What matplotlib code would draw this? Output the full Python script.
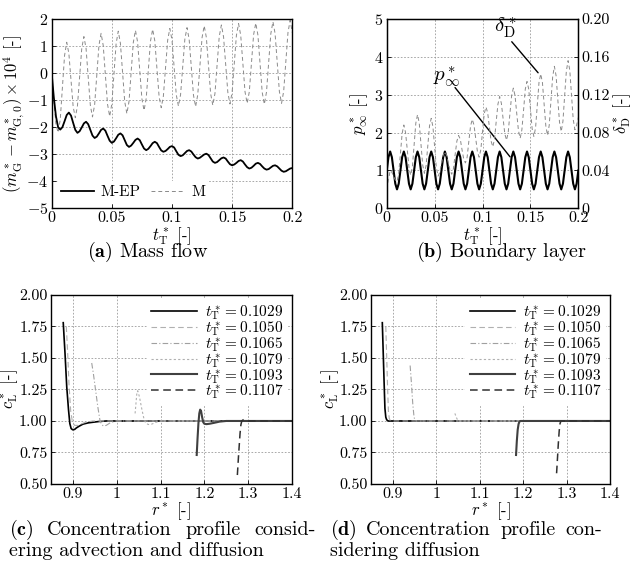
import numpy as np
import matplotlib
matplotlib.use("Agg")
import matplotlib.pyplot as plt

plt.rcParams["font.family"] = "serif"
plt.rcParams["font.serif"] = ["cmr10", "DejaVu Serif"]
plt.rcParams["mathtext.fontset"] = "cm"
plt.rcParams["axes.formatter.use_mathtext"] = True
plt.rcParams["axes.unicode_minus"] = True

# ---- (a) mass flow, sampled every 0.2/112 in t*_T
t_a = np.linspace(0.0, 0.2, 113)
m_ep = [0.0, -0.9, -1.6, -2.0, -2.09, -2.00, -1.78, -1.55, -1.46,
        -1.57, -1.84, -2.10, -2.21, -2.15, -2.01, -1.86, -1.80,
        -1.89, -2.10, -2.31, -2.40, -2.35, -2.23, -2.10, -2.05,
        -2.13, -2.32, -2.50, -2.58, -2.53, -2.41, -2.28, -2.23,
        -2.30, -2.48, -2.66, -2.73, -2.68, -2.58, -2.47, -2.42,
        -2.48, -2.64, -2.79, -2.85, -2.80, -2.70, -2.59, -2.54,
        -2.59, -2.73, -2.86, -2.91, -2.88, -2.81, -2.73, -2.70,
        -2.75, -2.89, -3.02, -3.07, -3.04, -2.96, -2.88, -2.85,
        -2.90, -3.01, -3.11, -3.16, -3.13, -3.07, -3.01, -2.98,
        -3.03, -3.15, -3.27, -3.32, -3.29, -3.22, -3.15, -3.12,
        -3.16, -3.27, -3.37, -3.41, -3.38, -3.32, -3.25, -3.22,
        -3.27, -3.38, -3.48, -3.53, -3.50, -3.43, -3.35, -3.32,
        -3.36, -3.45, -3.53, -3.57, -3.55, -3.49, -3.43, -3.41,
        -3.45, -3.53, -3.61, -3.65, -3.63, -3.58, -3.53, -3.51]
m_only = [0.0, -1.0, -1.9, -2.2, -1.71, -0.53, 0.65, 1.14, 0.73,
          -0.26, -1.24, -1.65, -1.21, -0.15, 0.91, 1.35, 0.92,
          -0.14, -1.19, -1.62, -1.17, -0.08, 1.02, 1.47, 1.02,
          -0.07, -1.15, -1.60, -1.14, -0.03, 1.09, 1.55, 1.10,
          0.03, -1.05, -1.50, -1.05, 0.04, 1.13, 1.58, 1.15,
          0.10, -0.95, -1.38, -0.94, 0.12, 1.18, 1.62, 1.20,
          0.17, -0.86, -1.28, -0.85, 0.19, 1.22, 1.65, 1.23,
          0.22, -0.80, -1.22, -0.80, 0.23, 1.26, 1.68, 1.25,
          0.22, -0.81, -1.24, -0.80, 0.26, 1.31, 1.75, 1.32,
          0.28, -0.76, -1.19, -0.76, 0.30, 1.35, 1.78, 1.35,
          0.32, -0.71, -1.14, -0.71, 0.35, 1.40, 1.83, 1.40,
          0.36, -0.69, -1.12, -0.69, 0.37, 1.42, 1.85, 1.41,
          0.35, -0.71, -1.15, -0.70, 0.38, 1.45, 1.90, 1.46,
          0.39, -0.68, -1.12, -0.67, 0.42, 1.50, 1.95, 1.50]

# ---- (b) boundary layer
t_b = np.linspace(0.0, 0.2, 113)
p_inf = [1.0, 1.35, 1.5, 1.35, 1.0, 0.65, 0.5, 0.65,
         1.0, 1.35, 1.5, 1.35, 1.0, 0.65, 0.5, 0.65,
         1.0, 1.35, 1.5, 1.35, 1.0, 0.65, 0.5, 0.65,
         1.0, 1.35, 1.5, 1.35, 1.0, 0.65, 0.5, 0.65,
         1.0, 1.35, 1.5, 1.35, 1.0, 0.65, 0.5, 0.65,
         1.0, 1.35, 1.5, 1.35, 1.0, 0.65, 0.5, 0.65,
         1.0, 1.35, 1.5, 1.35, 1.0, 0.65, 0.5, 0.65,
         1.0, 1.35, 1.5, 1.35, 1.0, 0.65, 0.5, 0.65,
         1.0, 1.35, 1.5, 1.35, 1.0, 0.65, 0.5, 0.65,
         1.0, 1.35, 1.5, 1.35, 1.0, 0.65, 0.5, 0.65,
         1.0, 1.35, 1.5, 1.35, 1.0, 0.65, 0.5, 0.65,
         1.0, 1.35, 1.5, 1.35, 1.0, 0.65, 0.5, 0.65,
         1.0, 1.35, 1.5, 1.35, 1.0, 0.65, 0.5, 0.65,
         1.0, 1.35, 1.5, 1.35, 1.0, 0.65, 0.5, 0.65,
         1.0]
delta_d = [0.020, 0.030, 0.040, 0.038, 0.034, 0.030, 0.028, 0.037, 0.058,
           0.079, 0.088, 0.080, 0.062, 0.043, 0.035, 0.044, 0.067,
           0.090, 0.099, 0.090, 0.068, 0.046, 0.037, 0.045, 0.066,
           0.087, 0.095, 0.086, 0.065, 0.043, 0.034, 0.038, 0.047,
           0.056, 0.060, 0.056, 0.048, 0.040, 0.036, 0.042, 0.057,
           0.071, 0.077, 0.073, 0.062, 0.052, 0.048, 0.054, 0.071,
           0.087, 0.094, 0.088, 0.074, 0.060, 0.054, 0.062, 0.081,
           0.100, 0.107, 0.101, 0.086, 0.071, 0.065, 0.073, 0.092,
           0.110, 0.118, 0.111, 0.095, 0.079, 0.072, 0.080, 0.100,
           0.119, 0.127, 0.119, 0.100, 0.082, 0.074, 0.083, 0.104,
           0.126, 0.134, 0.126, 0.105, 0.084, 0.076, 0.085, 0.109,
           0.133, 0.142, 0.133, 0.110, 0.087, 0.077, 0.088, 0.114,
           0.139, 0.150, 0.140, 0.115, 0.091, 0.081, 0.092, 0.119,
           0.145, 0.156, 0.146, 0.120, 0.094, 0.083, 0.088, 0.096]

# ---- (c) advection + diffusion profiles
times = ["0.1029", "0.1050", "0.1065", "0.1079", "0.1093", "0.1107"]
r_c = [
    [0.878, 0.880, 0.882, 0.886, 0.890, 0.893, 0.896, 0.8995, 0.904, 0.908,
     0.915, 0.923, 0.935, 0.946, 0.960, 0.976, 1.40],
    [0.885, 0.888, 0.891, 0.895, 0.899, 0.904, 0.912, 0.925, 0.945, 1.40],
    [0.943, 0.947, 0.952, 0.957, 0.962, 0.966, 0.970, 0.976, 0.985, 0.998, 1.40],
    [1.042, 1.046, 1.048, 1.052, 1.057, 1.062, 1.066, 1.072, 1.080, 1.090, 1.100, 1.40],
    [1.1826, 1.1845, 1.1865, 1.1885, 1.1905, 1.1925, 1.195, 1.1975, 1.200,
     1.205, 1.212, 1.222, 1.235, 1.250, 1.40],
    [1.2754, 1.278, 1.2815, 1.2835, 1.2855, 1.289, 1.293, 1.300, 1.40],
]
c_c = [
    [1.78, 1.66, 1.54, 1.27, 1.09, 0.98, 0.94, 0.93, 0.933, 0.945,
     0.96, 0.975, 0.985, 0.99, 0.996, 1.0, 1.0],
    [1.75, 1.55, 1.30, 1.08, 0.99, 0.965, 0.965, 0.985, 1.0, 1.0],
    [1.46, 1.37, 1.24, 1.11, 1.0, 0.97, 0.96, 0.965, 0.985, 1.0, 1.0],
    [1.06, 1.22, 1.24, 1.19, 1.10, 1.02, 0.985, 0.972, 0.975, 0.99, 1.0, 1.0],
    [0.73, 0.86, 0.98, 1.06, 1.09, 1.08, 1.03, 0.99, 0.978,
     0.975, 0.978, 0.985, 0.995, 1.0, 1.0],
    [0.571, 0.72, 0.90, 0.97, 1.0, 1.01, 1.008, 1.0, 1.0],
]

# ---- (d) diffusion only profiles
r_d = [
    [0.876, 0.878, 0.880, 0.882, 0.884, 0.886, 0.889, 1.40],
    [0.884, 0.886, 0.888, 0.890, 0.892, 0.894, 0.897, 1.40],
    [0.940, 0.943, 0.946, 0.949, 0.951, 0.954, 1.40],
    [1.043, 1.046, 1.049, 1.052, 1.40],
    [1.1837, 1.1855, 1.1875, 1.1895, 1.1915, 1.194, 1.40],
    [1.277, 1.279, 1.281, 1.283, 1.285, 1.287, 1.40],
]
c_d = [
    [1.78, 1.55, 1.32, 1.10, 1.03, 1.01, 1.0, 1.0],
    [1.75, 1.52, 1.28, 1.08, 1.02, 1.005, 1.0, 1.0],
    [1.44, 1.30, 1.14, 1.03, 1.01, 1.0, 1.0],
    [1.06, 1.03, 1.01, 1.0, 1.0],
    [0.73, 0.84, 0.93, 0.975, 0.995, 1.0, 1.0],
    [0.585, 0.70, 0.82, 0.92, 0.98, 1.0, 1.0],
]

profile_styles = [
    dict(color="black", lw=1.2, ls="-"),
    dict(color="#b0b0b0", lw=0.8, ls=(0, (5, 3))),
    dict(color="#a0a0a0", lw=0.8, ls=(0, (5, 2, 1, 2))),
    dict(color="#b0b0b0", lw=0.8, ls=(0, (2, 2))),
    dict(color="#404040", lw=1.5, ls="-"),
    dict(color="#303030", lw=1.1, ls=(0, (5, 3))),
]

W, H = 634, 561
TICK = 11.5
LAB = 12
LEG = 11
CAP = 14.5
XLAB_Y = -0.088
grid_kw = dict(color="#9a9a9a", ls=(0, (2, 2)), lw=0.6)


def style_axes(ax):
    ax.grid(True, **grid_kw)
    ax.tick_params(direction="in", length=3, labelsize=TICK, width=0.6, pad=2.5)
    for s in ax.spines.values():
        s.set_linewidth(1.0)


fig = plt.figure(figsize=(W / 100, H / 100), dpi=100)

# (a)
ax = fig.add_axes([0.0815, 0.6287, 0.3795, 0.3374])
ax.plot(t_a, m_ep, color="black", lw=1.3, label="M-EP", zorder=3)
ax.plot(t_a, m_only, color="#8a8a8a", lw=0.7, ls=(0, (4, 3)), label="M", zorder=2)
ax.set_xlim(0, 0.2)
ax.set_ylim(-5, 2)
ax.set_xticks([0, 0.05, 0.1, 0.15, 0.2])
ax.set_xticklabels(["0", "0.05", "0.1", "0.15", "0.2"])
ax.set_yticks(range(-5, 3))
style_axes(ax)
ax.set_xlabel(r"$t^*_{\mathrm{T}}$ [-]", fontsize=LAB)
ax.xaxis.set_label_coords(0.5, XLAB_Y)
ax.set_ylabel(r"$(m^*_{\mathrm{G}} - m^*_{\mathrm{G,0}}) \times 10^4$ [-]", fontsize=LAB)
ax.yaxis.set_label_coords(-0.105, 0.5)
leg = ax.legend(loc="lower left", ncol=2, fontsize=LEG, frameon=True, framealpha=1,
                edgecolor="none", facecolor="white", handlelength=2.2,
                handletextpad=0.4, columnspacing=0.7, borderaxespad=0.3,
                borderpad=0.3)
leg.get_frame().set_linewidth(0)
fig.text(147.5 / W, 1 - 252 / H, r"$\mathbf{(a)}$ Mass flow", fontsize=CAP,
         ha="center", va="center")

# (b)
ax = fig.add_axes([0.610, 0.6287, 0.3022, 0.3374])
ax.plot(t_b, p_inf, color="black", lw=1.5, zorder=3)
ax.set_xlim(0, 0.2)
ax.set_ylim(0, 5)
ax.set_xticks([0, 0.05, 0.1, 0.15, 0.2])
ax.set_xticklabels(["0", "0.05", "0.1", "0.15", "0.2"])
ax.set_yticks(range(0, 6))
style_axes(ax)
ax.set_xlabel(r"$t^*_{\mathrm{T}}$ [-]", fontsize=LAB)
ax.xaxis.set_label_coords(0.5, XLAB_Y)
ax.set_ylabel(r"$p^*_{\infty}$ [-]", fontsize=LAB)
ax.yaxis.set_label_coords(-0.087, 0.5)
ax2 = ax.twinx()
ax2.plot(t_b, delta_d, color="#8a8a8a", lw=0.7, ls=(0, (4, 3)), zorder=2)
ax2.set_ylim(0, 0.2)
ax2.set_yticks([0, 0.04, 0.08, 0.12, 0.16, 0.2])
ax2.set_yticklabels(["0", "0.04", "0.08", "0.12", "0.16", "0.20"])
ax2.tick_params(direction="in", length=3, labelsize=TICK, width=0.6, pad=2.5)
ax2.set_ylabel(r"$\delta^*_{\mathrm{D}}$ [-]", fontsize=LAB)
ax2.yaxis.set_label_coords(1.172, 0.5)
ax.annotate("", xy=(0.158, 3.58), xytext=(0.1305, 4.4),
            arrowprops=dict(arrowstyle="-", lw=1.0, color="black", shrinkA=0, shrinkB=0))
ax.text(0.1235, 4.76, r"$\delta^*_{\mathrm{D}}$", fontsize=15, ha="center", va="center")
ax.annotate("", xy=(0.1287, 1.36), xytext=(0.0713, 3.19),
            arrowprops=dict(arrowstyle="-", lw=1.0, color="black", shrinkA=0, shrinkB=0))
ax.text(0.0626, 3.47, r"$p^*_{\infty}$", fontsize=15, ha="center", va="center")
fig.text(501.7 / W, 1 - 252 / H, r"$\mathbf{(b)}$ Boundary layer", fontsize=CAP,
         ha="center", va="center")


def profile_axes(rect, rs, cs):
    ax = fig.add_axes(rect)
    for r, c, lab, st in zip(rs, cs, times, profile_styles):
        ax.plot(r, c, label=r"$t^*_{\mathrm{T}} = %s$" % lab, **st)
    ax.set_xlim(0.85, 1.4)
    ax.set_ylim(0.5, 2.0)
    ax.set_xticks([0.9, 1.0, 1.1, 1.2, 1.3, 1.4])
    ax.set_xticklabels(["0.9", "1", "1.1", "1.2", "1.3", "1.4"])
    yt = [0.5, 0.75, 1.0, 1.25, 1.5, 1.75, 2.0]
    ax.set_yticks(yt)
    ax.set_yticklabels(["%.2f" % v for v in yt])
    style_axes(ax)
    ax.set_xlabel(r"$r^*$ [-]", fontsize=LAB)
    ax.xaxis.set_label_coords(0.5, XLAB_Y)
    ax.set_ylabel(r"$c^*_{\mathrm{L}}$ [-]", fontsize=LAB)
    ax.yaxis.set_label_coords(-0.127, 0.5)
    lg = ax.legend(loc="upper right", fontsize=LEG, frameon=True, framealpha=1,
                   edgecolor="none", facecolor="white", handlelength=3.0,
                   handletextpad=0.5, labelspacing=-0.2, borderaxespad=0.25,
                   borderpad=0.3)
    lg.get_frame().set_linewidth(0)
    return ax


profile_axes([0.0804, 0.1373, 0.3801, 0.3369], r_c, c_c)
profile_axes([0.5852, 0.1373, 0.3770, 0.3369], r_d, c_d)


def justified_line(words, x0, x1, y):
    # spread the words of a caption line between x0 and x1 (pixels)
    texts = [fig.text(0, 1 - y / H, w, fontsize=CAP, ha="left", va="center")
             for w in words]
    renderer = fig.canvas.get_renderer()
    widths = [t.get_window_extent(renderer).width for t in texts]
    gap = (x1 - x0 - sum(widths)) / (len(words) - 1)
    x = x0
    for t, w in zip(texts, widths):
        t.set_x(x / W)
        x += w + gap


justified_line([r"$\mathbf{(c)}$", "Concentration", "profile", "consid-"], 9, 316, 530)
fig.text(9 / W, 1 - 551 / H, "ering advection and diffusion", fontsize=CAP,
         ha="left", va="center")
justified_line([r"$\mathbf{(d)}$", "Concentration", "profile", "con-"], 330, 602, 530)
fig.text(330 / W, 1 - 551 / H, "sidering diffusion", fontsize=CAP,
         ha="left", va="center")

fig.savefig("out.png", dpi=100, facecolor="white")
